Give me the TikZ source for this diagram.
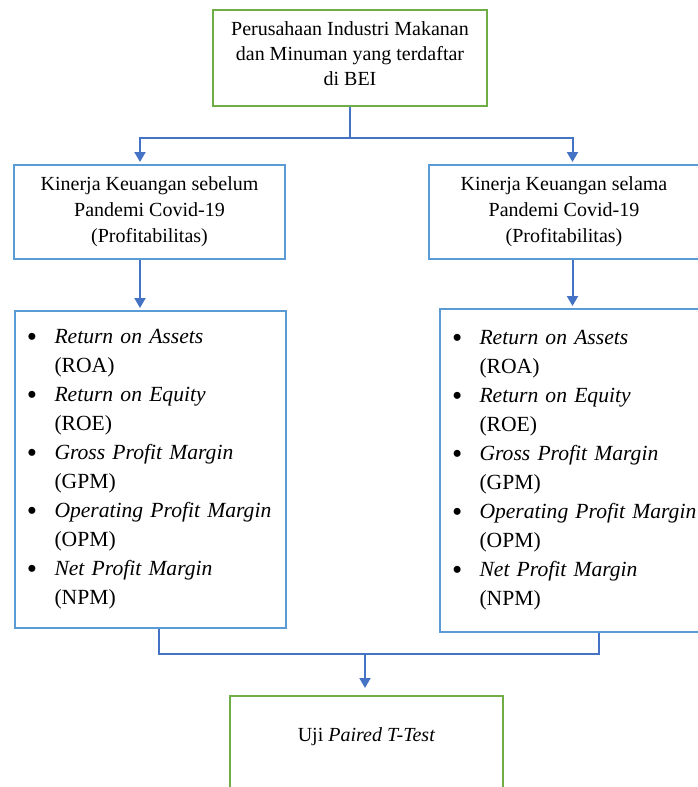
\documentclass[tikz,border=0pt]{standalone}
\usepackage{fontspec}
\setmainfont{LiberationSerif}[Extension=.ttf,UprightFont=*-Regular,ItalicFont=*-Italic,BoldFont=*-Bold,BoldItalicFont=*-BoldItalic]
\usetikzlibrary{arrows.meta}

\definecolor{boxgreen}{RGB}{112,173,71}
\definecolor{boxblue}{RGB}{91,155,213}
\definecolor{linkblue}{RGB}{68,114,196}

\newcommand{\rasio}[2]{\makebox[25.5pt][l]{\hspace*{-2pt}\raisebox{-3pt}{\scalebox{1.35}{\textbullet}}}\textit{#1}\\\hspace*{25.5pt}(#2)}

\begin{document}
\begin{tikzpicture}[x=1pt,y=-1pt,
  greenbox/.style={draw=boxgreen,line width=2pt,inner sep=0pt,align=center,font=\fontsize{20}{25}\selectfont},
  bluebox/.style={draw=boxblue,line width=2pt,inner sep=0pt,align=center,font=\fontsize{20}{26}\selectfont},
  listbox/.style={draw=boxblue,line width=2pt,inner xsep=14pt,inner ysep=0pt,text width=243pt,align=left,font=\fontsize{21.6}{29}\selectfont},
  link/.style={draw=linkblue,line width=2pt},
  arrow/.style={link,-{Triangle[width=11pt,length=10pt]},shorten >=2pt}]
\useasboundingbox (0,0) rectangle (697,787);

\node[greenbox,minimum width=274pt,minimum height=96pt,text depth=8pt] (emiten) at (350,58) {Perusahaan Industri Makanan\\dan Minuman yang terdaftar\\di BEI};

\node[bluebox,minimum width=271pt,minimum height=94pt] (sebelum) at (149.5,212) {Kinerja Keuangan sebelum\\Pandemi Covid-19\\(Profitabilitas)};
\node[bluebox,minimum width=270pt,minimum height=94pt] (selama) at (564,212) {Kinerja Keuangan selama\\Pandemi Covid-19\\(Profitabilitas)};

\node[listbox,minimum width=271pt,minimum height=317pt,anchor=north west] (rasiosebelum) at (14,310) {\rasio{Return on Assets}{ROA}\\\rasio{Return on Equity}{ROE}\\\rasio{Gross Profit Margin}{GPM}\\\rasio{Operating Profit Margin}{OPM}\\\rasio{Net Profit Margin}{NPM}};
\node[listbox,minimum width=271pt,minimum height=323pt,anchor=north west] (rasioselama) at (439,308) {\rasio{Return on Assets}{ROA}\\\rasio{Return on Equity}{ROE}\\\rasio{Gross Profit Margin}{GPM}\\\rasio{Operating Profit Margin}{OPM}\\\rasio{Net Profit Margin}{NPM}};

\node[greenbox,minimum width=273pt,anchor=north,inner ysep=32pt,text depth=80pt] (uji) at (366.5,695) {Uji \textit{Paired T-Test}};

\coordinate (cabang) at (350,138);
\coordinate (gabung) at (365,654);

\draw[link] (emiten.south) -- (cabang);
\draw[arrow] (cabang) -| ([xshift=-9.5pt]sebelum.north);
\draw[arrow] (cabang) -| ([xshift=8.5pt]selama.north);

\draw[arrow] ([xshift=-9.5pt]sebelum.south) -- ([xshift=-9.5pt]sebelum.south |- rasiosebelum.north);
\draw[arrow] ([xshift=8.5pt]selama.south) -- ([xshift=8.5pt]selama.south |- rasioselama.north);

\draw[link] ([xshift=8.5pt]rasiosebelum.south) |- ([xshift=23.5pt]rasioselama.south |- gabung) -- ([xshift=23.5pt]rasioselama.south);
\draw[arrow,shorten >=7pt] (gabung) -- (gabung |- uji.north);
\end{tikzpicture}
\end{document}
